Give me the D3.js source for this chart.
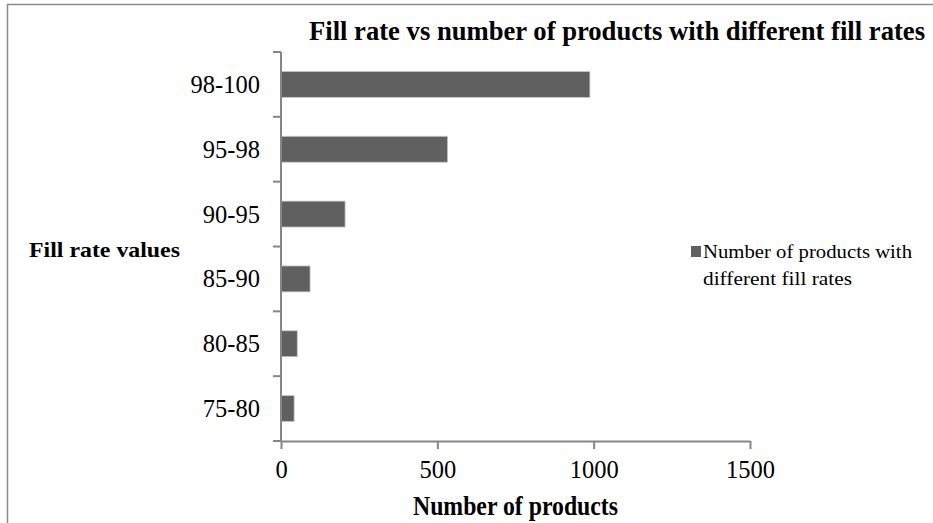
<!DOCTYPE html>
<html>
<head>
<meta charset="utf-8">
<script src="https://cdn.jsdelivr.net/npm/d3@7"></script>
<style>
  html, body { margin: 0; padding: 0; background: #fff; }
  svg { display: block; }
  text { font-family: "Liberation Serif", "Times New Roman", serif; fill: #000; }
</style>
</head>
<body>
<svg id="chart" width="933" height="523"></svg>
<script>
// Fill-rate buckets (top to bottom) and product counts per bucket
const categories = ["98-100", "95-98", "90-95", "85-90", "80-85", "75-80"];
const productCounts = [988, 533, 205, 93, 52, 42];
const xTicks = [0, 500, 1000, 1500];
const seriesName = ["Number of products with", "different fill rates"];

const svg = d3.select("#chart");
const W = 933, H = 523;
const plot = { left: 281, right: 750, top: 52, bottom: 441 };

// outer frame (right and bottom edges run past the canvas)
svg.append("rect")
  .attr("x", 7.5).attr("y", 4.5)
  .attr("width", W + 10).attr("height", H + 10)
  .attr("fill", "#fff").attr("stroke", "#8c8c8c").attr("stroke-width", 1.5);

const x = d3.scaleLinear().domain([0, 1500]).range([plot.left, plot.right]);
const y = d3.scaleBand().domain(categories).range([plot.top, plot.bottom])
  .paddingInner(0.6).paddingOuter(0.3);

// bars
svg.append("g").selectAll("rect")
  .data(categories.map((c, i) => ({ c, v: productCounts[i] })))
  .join("rect")
  .attr("x", x(0))
  .attr("y", d => y(d.c))
  .attr("width", d => x(d.v) - x(0))
  .attr("height", y.bandwidth())
  .attr("fill", "#606060")
  .attr("stroke", "#c8c8c8").attr("stroke-width", 0.8);

const axisColor = "#868686";

// x axis
const xAxis = svg.append("g")
  .attr("transform", `translate(0,${plot.bottom})`)
  .call(d3.axisBottom(x).tickValues(xTicks).tickFormat(d3.format("d"))
    .tickSize(8).tickPadding(12).tickSizeOuter(0));
xAxis.select(".domain").attr("stroke", axisColor).attr("stroke-width", 2);
xAxis.selectAll(".tick line").attr("stroke", axisColor).attr("stroke-width", 2);
xAxis.selectAll(".tick text")
  .attr("font-family", "Liberation Serif, serif").attr("font-size", 24.5).attr("fill", "#000");

// y axis: ticks sit on band boundaries
const yAxisG = svg.append("g").attr("transform", `translate(${plot.left},0)`);
yAxisG.append("line")
  .attr("x1", 0).attr("x2", 0).attr("y1", plot.top).attr("y2", plot.bottom)
  .attr("stroke", axisColor).attr("stroke-width", 2);
const boundaries = d3.range(categories.length + 1).map(i => plot.top + (plot.bottom - plot.top) * i / categories.length);
yAxisG.selectAll("line.tk").data(boundaries).join("line").attr("class", "tk")
  .attr("x1", -8).attr("x2", 0).attr("y1", d => d).attr("y2", d => d)
  .attr("stroke", axisColor).attr("stroke-width", 2);
yAxisG.selectAll("text").data(categories).join("text")
  .attr("x", -21)
  .attr("y", d => y(d) + y.bandwidth() / 2)
  .attr("dy", "0.35em")
  .attr("text-anchor", "end")
  .attr("font-size", 24.5)
  .text(d => d);

// title
svg.append("text")
  .attr("x", 309).attr("y", 40)
  .attr("font-size", 27).attr("font-weight", "bold")
  .attr("textLength", 616).attr("lengthAdjust", "spacingAndGlyphs")
  .text("Fill rate vs number of products with different fill rates");

// axis titles
svg.append("text")
  .attr("x", 413).attr("y", 515)
  .attr("font-size", 27).attr("font-weight", "bold")
  .attr("textLength", 205).attr("lengthAdjust", "spacingAndGlyphs")
  .text("Number of products");

svg.append("text")
  .attr("x", 29).attr("y", 257)
  .attr("font-size", 21).attr("font-weight", "bold")
  .attr("textLength", 151).attr("lengthAdjust", "spacingAndGlyphs")
  .text("Fill rate values");

// legend
const lg = svg.append("g");
lg.append("rect")
  .attr("x", 691).attr("y", 246).attr("width", 10).attr("height", 11)
  .attr("fill", "#606060");
lg.selectAll("text").data(seriesName).join("text")
  .attr("x", 703)
  .attr("y", (d, i) => 258 + i * 27)
  .attr("font-size", 18)
  .attr("textLength", (d, i) => i === 0 ? 209 : 149)
  .attr("lengthAdjust", "spacingAndGlyphs")
  .text(d => d);
</script>
</body>
</html>
